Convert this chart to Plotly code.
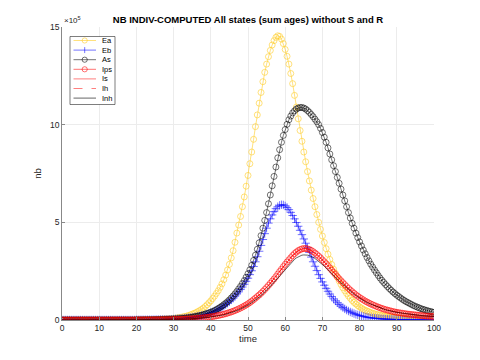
import plotly.graph_objects as go

# time grid (step 0.5)
time = [i / 2 for i in range(201)]

# values in units of 1e5
Z40 = [0.0] * 40  # t = 0 .. 19.5 (essentially zero)

Ea = Z40 + [
    0.01, 0.01, 0.01, 0.012, 0.015, 0.017, 0.02, 0.022, 0.025, 0.028,
    0.03, 0.035, 0.04, 0.045, 0.05, 0.055, 0.06, 0.065, 0.07, 0.075,
    0.08, 0.095, 0.11, 0.125, 0.14, 0.16, 0.18, 0.2, 0.23, 0.265,
    0.3, 0.34, 0.38, 0.43, 0.48, 0.54, 0.61, 0.69, 0.78, 0.88,
    0.98, 1.1, 1.22, 1.36, 1.5, 1.67, 1.85, 2.06, 2.3, 2.56,
    2.85, 3.18, 3.55, 3.98, 4.45, 4.86, 5.3, 5.8, 6.3, 6.85,
    7.4, 8.0, 8.6, 9.25, 9.9, 10.5, 11.1, 11.65, 12.2, 12.68,
    13.1, 13.48, 13.8, 14.08, 14.3, 14.47, 14.55, 14.52, 14.38, 14.15,
    13.85, 13.5, 13.1, 12.62, 12.1, 11.5, 10.9, 10.3, 9.7, 9.15,
    8.6, 8.1, 7.6, 7.12, 6.65, 6.22, 5.8, 5.4, 5.0, 4.64,
    4.3, 3.97, 3.65, 3.37, 3.1, 2.84, 2.6, 2.39, 2.2, 2.0,
    1.82, 1.65, 1.5, 1.36, 1.23, 1.11, 1.0, 0.9, 0.82, 0.74,
    0.67, 0.61, 0.55, 0.5, 0.46, 0.42, 0.38, 0.35, 0.32, 0.29,
    0.27, 0.25, 0.23, 0.21, 0.19, 0.175, 0.16, 0.15, 0.14, 0.13,
    0.12, 0.11, 0.1, 0.093, 0.085, 0.078, 0.072, 0.066, 0.06, 0.056,
    0.052, 0.048, 0.045, 0.042, 0.039, 0.036, 0.034, 0.032, 0.03, 0.028,
    0.026,
]

Eb = Z40 + [
    0.005, 0.006, 0.007, 0.008, 0.009, 0.01, 0.011, 0.012, 0.013, 0.015,
    0.017, 0.019, 0.021, 0.023, 0.025, 0.028, 0.031, 0.034, 0.038, 0.042,
    0.046, 0.051, 0.057, 0.063, 0.07, 0.078, 0.087, 0.097, 0.108, 0.12,
    0.133, 0.148, 0.164, 0.182, 0.2, 0.22, 0.245, 0.27, 0.3, 0.33,
    0.365, 0.4, 0.44, 0.485, 0.535, 0.59, 0.65, 0.715, 0.785, 0.86,
    0.94, 1.03, 1.12, 1.22, 1.33, 1.44, 1.56, 1.69, 1.83, 1.98,
    2.14, 2.32, 2.52, 2.74, 2.98, 3.24, 3.52, 3.82, 4.12, 4.42,
    4.7, 4.96, 5.18, 5.38, 5.55, 5.7, 5.8, 5.87, 5.9, 5.89,
    5.84, 5.76, 5.65, 5.51, 5.35, 5.18, 4.99, 4.8, 4.59, 4.37,
    4.15, 3.93, 3.7, 3.46, 3.22, 2.98, 2.75, 2.53, 2.32, 2.13,
    1.95, 1.78, 1.62, 1.47, 1.33, 1.2, 1.08, 0.98, 0.88, 0.79,
    0.71, 0.64, 0.57, 0.51, 0.46, 0.41, 0.37, 0.33, 0.29, 0.26,
    0.23, 0.205, 0.18, 0.16, 0.14, 0.125, 0.11, 0.1, 0.09, 0.08,
    0.07, 0.062, 0.055, 0.05, 0.045, 0.04, 0.035, 0.032, 0.03, 0.027,
    0.025, 0.022, 0.02, 0.018, 0.016, 0.014, 0.012, 0.011, 0.01, 0.009,
    0.008, 0.007, 0.007, 0.006, 0.006, 0.005, 0.005, 0.005, 0.004, 0.004,
    0.004,
]

As = Z40 + [
    0.004, 0.005, 0.006, 0.007, 0.008, 0.009, 0.01, 0.011, 0.012, 0.014,
    0.016, 0.018, 0.02, 0.022, 0.025, 0.028, 0.031, 0.035, 0.039, 0.044,
    0.049, 0.055, 0.061, 0.068, 0.076, 0.085, 0.095, 0.106, 0.118, 0.131,
    0.146, 0.162, 0.18, 0.2, 0.222, 0.246, 0.272, 0.3, 0.332, 0.366,
    0.4, 0.44, 0.485, 0.535, 0.59, 0.65, 0.715, 0.785, 0.86, 0.94,
    1.03, 1.13, 1.23, 1.34, 1.46, 1.59, 1.72, 1.87, 2.02, 2.19,
    2.37, 2.57, 2.8, 3.05, 3.32, 3.62, 3.95, 4.32, 4.7, 5.1,
    5.5, 5.95, 6.4, 6.87, 7.35, 7.83, 8.3, 8.72, 9.1, 9.45,
    9.75, 10.02, 10.25, 10.44, 10.6, 10.71, 10.8, 10.85, 10.88, 10.88,
    10.85, 10.8, 10.72, 10.63, 10.52, 10.41, 10.28, 10.15, 10.0, 9.81,
    9.6, 9.36, 9.1, 8.81, 8.5, 8.2, 7.9, 7.6, 7.3, 7.0,
    6.7, 6.4, 6.1, 5.8, 5.5, 5.22, 4.95, 4.7, 4.45, 4.22,
    4.0, 3.79, 3.58, 3.39, 3.2, 3.03, 2.86, 2.71, 2.56, 2.42,
    2.28, 2.15, 2.03, 1.92, 1.81, 1.71, 1.61, 1.52, 1.43, 1.35,
    1.27, 1.2, 1.13, 1.06, 1.0, 0.94, 0.89, 0.84, 0.79, 0.74,
    0.7, 0.66, 0.62, 0.58, 0.55, 0.52, 0.49, 0.46, 0.44, 0.41,
    0.39,
]

Ips = Z40 + [
    0.003, 0.003, 0.004, 0.004, 0.005, 0.005, 0.006, 0.006, 0.007, 0.008,
    0.009, 0.01, 0.011, 0.012, 0.013, 0.014, 0.016, 0.018, 0.02, 0.022,
    0.025, 0.027, 0.03, 0.033, 0.036, 0.04, 0.044, 0.048, 0.053, 0.058,
    0.064, 0.07, 0.077, 0.085, 0.093, 0.102, 0.112, 0.123, 0.135, 0.148,
    0.162, 0.177, 0.193, 0.211, 0.23, 0.251, 0.273, 0.297, 0.323, 0.351,
    0.381, 0.413, 0.448, 0.485, 0.525, 0.568, 0.614, 0.663, 0.715, 0.77,
    0.83, 0.895, 0.965, 1.04, 1.12, 1.2, 1.28, 1.37, 1.46, 1.56,
    1.66, 1.77, 1.88, 1.99, 2.1, 2.22, 2.35, 2.48, 2.6, 2.73,
    2.85, 2.97, 3.08, 3.19, 3.3, 3.4, 3.48, 3.55, 3.6, 3.64,
    3.66, 3.66, 3.64, 3.61, 3.56, 3.5, 3.43, 3.35, 3.27, 3.18,
    3.08, 2.98, 2.88, 2.77, 2.66, 2.55, 2.44, 2.33, 2.22, 2.11,
    2.01, 1.91, 1.81, 1.71, 1.62, 1.53, 1.45, 1.37, 1.29, 1.22,
    1.15, 1.09, 1.03, 0.97, 0.92, 0.87, 0.82, 0.78, 0.74, 0.7,
    0.66, 0.625, 0.59, 0.56, 0.53, 0.505, 0.48, 0.455, 0.43, 0.41,
    0.39, 0.375, 0.36, 0.345, 0.33, 0.315, 0.3, 0.29, 0.28, 0.27,
    0.26, 0.25, 0.24, 0.23, 0.22, 0.21, 0.2, 0.195, 0.19, 0.185,
    0.18,
]

# Is and Ih coincide with Ips in the picture (hidden beneath it)
Is = list(Ips)
Ih = list(Ips)

Inh = Z40 + [
    0.003, 0.003, 0.003, 0.004, 0.004, 0.005, 0.005, 0.006, 0.006, 0.007,
    0.008, 0.009, 0.01, 0.011, 0.012, 0.013, 0.015, 0.016, 0.018, 0.02,
    0.022, 0.025, 0.027, 0.03, 0.033, 0.036, 0.04, 0.044, 0.048, 0.053,
    0.058, 0.064, 0.07, 0.077, 0.084, 0.092, 0.101, 0.111, 0.122, 0.134,
    0.147, 0.161, 0.176, 0.192, 0.209, 0.228, 0.248, 0.27, 0.294, 0.32,
    0.348, 0.378, 0.41, 0.444, 0.481, 0.52, 0.562, 0.607, 0.655, 0.706,
    0.76, 0.818, 0.88, 0.946, 1.02, 1.09, 1.17, 1.25, 1.34, 1.43,
    1.52, 1.62, 1.72, 1.82, 1.93, 2.04, 2.15, 2.26, 2.38, 2.49,
    2.6, 2.71, 2.82, 2.92, 3.02, 3.1, 3.18, 3.24, 3.29, 3.32,
    3.33, 3.33, 3.32, 3.29, 3.26, 3.21, 3.15, 3.08, 3.01, 2.93,
    2.85, 2.76, 2.67, 2.58, 2.48, 2.38, 2.28, 2.18, 2.09, 1.99,
    1.9, 1.81, 1.72, 1.63, 1.55, 1.47, 1.39, 1.32, 1.25, 1.18,
    1.11, 1.05, 1.0, 0.94, 0.89, 0.85, 0.8, 0.76, 0.72, 0.68,
    0.65, 0.61, 0.58, 0.55, 0.52, 0.5, 0.47, 0.45, 0.43, 0.41,
    0.39, 0.375, 0.36, 0.345, 0.33, 0.315, 0.3, 0.29, 0.28, 0.27,
    0.26, 0.25, 0.24, 0.23, 0.22, 0.21, 0.2, 0.195, 0.19, 0.185,
    0.18,
]

series_names = ["Ea", "Eb", "As", "Ips", "Is", "Ih", "Inh"]
SCALE = 1e5
y_ticks = [0, 5, 10, 15]
x_ticks = [0, 10, 20, 30, 40, 50, 60, 70, 80, 90, 100]

FONT = "Liberation Sans, Arial, Helvetica, sans-serif"

# colours / styles
C_EA = "rgba(255,205,40,0.6)"
C_EB = "rgba(0,0,255,0.55)"
C_AS = "rgba(0,0,0,0.55)"
C_IPS = "rgba(255,0,0,0.55)"
C_IS = "rgba(255,0,0,0.5)"
C_INH = "rgba(0,0,0,0.6)"

styles = {
    "Ea": dict(color=C_EA, marker="circle", dash="solid"),
    "Eb": dict(color=C_EB, marker="cross", dash="solid"),
    "As": dict(color=C_AS, marker="circle", dash="solid"),
    "Ips": dict(color=C_IPS, marker="circle", dash="solid"),
    "Is": dict(color=C_IS, marker=None, dash="solid"),
    "Ih": dict(color=C_IS, marker=None, dash="dash"),
    "Inh": dict(color=C_INH, marker=None, dash="solid"),
}

def sc(v):
    return [x * SCALE for x in v]

data = {"Ea": Ea, "Eb": Eb, "As": As, "Ips": Ips, "Is": Is, "Ih": Ih, "Inh": Inh}

fig = go.Figure()
for name in series_names:
    st = styles[name]
    if st["marker"] == "circle":
        fig.add_trace(go.Scatter(
            x=time, y=sc(data[name]), name=name, mode="lines+markers",
            line=dict(color=st["color"], width=1, dash=st["dash"]),
            marker=dict(symbol="circle-open", size=6, color=st["color"], line=dict(width=1))))
    elif st["marker"] == "cross":
        fig.add_trace(go.Scatter(
            x=time, y=sc(data[name]), name=name, mode="lines+markers",
            line=dict(color=st["color"], width=1, dash=st["dash"]),
            marker=dict(symbol="cross-thin-open", size=6, color=st["color"],
                        line=dict(width=1, color=st["color"]))))
    else:
        fig.add_trace(go.Scatter(
            x=time, y=sc(data[name]), name=name, mode="lines",
            line=dict(color=st["color"], width=1, dash=st["dash"])))

# ---- plot-area geometry (pixels) ----
W, H = 480, 360
L, R, T, B = 62, 434, 27, 320

def px(xp):
    return (xp - L) / (R - L)

def py(yp):
    return (B - yp) / (B - T)

# ---- compact MATLAB-like legend, drawn as layout shapes/annotations ----
shapes = []
annotations = []
box_x0, box_x1, box_y0, box_y1 = 70, 115, 36.5, 104.5
shapes.append(dict(type="rect", xref="paper", yref="paper",
                   x0=px(box_x0), x1=px(box_x1), y0=py(box_y1), y1=py(box_y0),
                   line=dict(color="#262626", width=0.6), fillcolor="white", layer="above"))
row0, row_step = 40.5, 9.6
for i, name in enumerate(series_names):
    st = styles[name]
    yy = py(row0 + i * row_step)
    shapes.append(dict(type="line", xref="paper", yref="paper",
                       x0=px(73.5), x1=px(96), y0=yy, y1=yy, layer="above",
                       line=dict(color=st["color"], width=1, dash="dash" if st["dash"] == "dash" else "solid")))
    if st["marker"] == "circle":
        shapes.append(dict(type="circle", xref="paper", yref="paper",
                           xsizemode="pixel", ysizemode="pixel",
                           xanchor=px(84.7), yanchor=yy, x0=-2.6, x1=2.6, y0=-2.6, y1=2.6,
                           line=dict(color=st["color"], width=1), layer="above"))
    elif st["marker"] == "cross":
        shapes.append(dict(type="line", xref="paper", yref="paper",
                           xsizemode="pixel", ysizemode="pixel",
                           xanchor=px(84.7), yanchor=yy, x0=0, x1=0, y0=-3, y1=3,
                           line=dict(color=st["color"], width=1), layer="above"))
    annotations.append(dict(text=name, xref="paper", yref="paper",
                            x=px(99.5), y=yy, xanchor="left", yanchor="middle",
                            showarrow=False, font=dict(size=7.5, color="#000")))

annotations.append(dict(text="\u00d710<sup>5</sup>", xref="paper", yref="paper",
                        x=0.0, y=1.0, xanchor="left", yanchor="bottom",
                        showarrow=False, font=dict(size=8, color="#262626")))

fig.update_layout(
    width=W, height=H,
    margin=dict(l=L, r=W - R, t=T, b=H - B, autoexpand=False),
    paper_bgcolor="white", plot_bgcolor="white",
    font=dict(family=FONT, size=8.5, color="#262626"),
    hovermode=False,
    title=dict(text="<b>NB INDIV-COMPUTED All states (sum ages) without S and R</b>",
               x=px(248), xref="paper", xanchor="center", y=1 - 20 / H, yanchor="middle",
               font=dict(size=9.5, color="#000000")),
    showlegend=False,
    xaxis=dict(range=[0, 100], tickvals=x_ticks, ticks="inside", ticklen=3,
               tickcolor="#888", showline=True, linecolor="#888", linewidth=0.8,
               showgrid=True, gridcolor="#ececec", zeroline=False, automargin=False,
               tickfont=dict(size=8.5),
               title=dict(text="time", standoff=3, font=dict(size=9.5))),
    yaxis=dict(range=[0, 15 * SCALE], tickvals=[v * SCALE for v in y_ticks],
               ticktext=[str(v) for v in y_ticks], ticks="inside", ticklen=3,
               tickcolor="#888", showline=True, linecolor="#888", linewidth=0.8,
               showgrid=True, gridcolor="#ececec", zeroline=False, automargin=False,
               tickfont=dict(size=8.5),
               title=dict(text="nb", standoff=6, font=dict(size=9.5))),
    shapes=shapes,
    annotations=annotations,
)

fig.write_html("out.html", config={"displayModeBar": False},
               post_script="document.body.style.margin='0';")
